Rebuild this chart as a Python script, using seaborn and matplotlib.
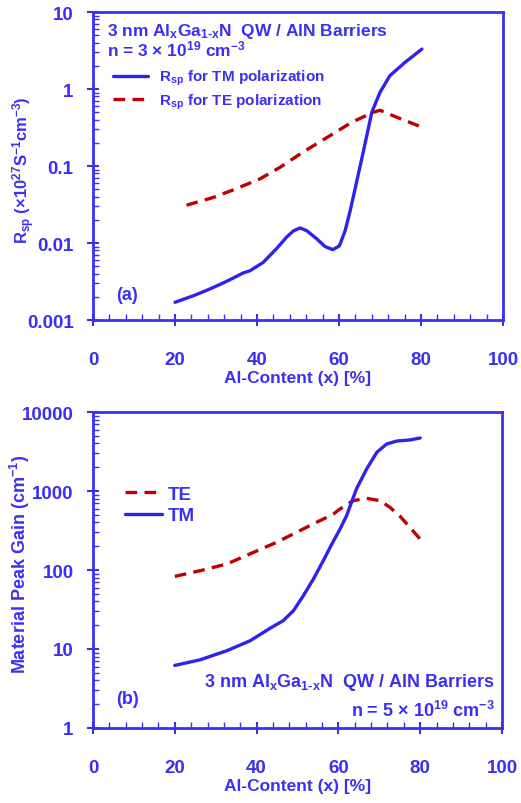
import numpy as np
import matplotlib
matplotlib.use('Agg')
import matplotlib.pyplot as plt
import seaborn as sns
from matplotlib.ticker import MultipleLocator, LogLocator, FuncFormatter

# ---- data ----
# (a) spontaneous emission rate, x = Al content [%]
rsp_tm_x = [20.0, 24.5, 28.5, 32.6, 36.7, 38.3, 41.5, 44.8, 47.2, 48.9, 50.5, 52.1,
            54.6, 56.6, 58.5, 60.1, 61.5, 62.7, 63.9, 65.9, 68.0, 70.0, 72.4, 76.1, 80.2]
rsp_tm_y = [0.0017, 0.00207, 0.00253, 0.00318, 0.0041, 0.00437, 0.0056, 0.0085, 0.0119,
            0.0144, 0.0157, 0.0145, 0.0113, 0.0090, 0.0082, 0.0092, 0.0145, 0.026, 0.050,
            0.151, 0.50, 0.906, 1.49, 2.22, 3.3]
rsp_te_x = [22.8, 29.3, 34.2, 40.7, 45.6, 50.9, 57.8, 63.1, 68.4, 70.0, 74.1, 80.2]
rsp_te_y = [0.031, 0.039, 0.049, 0.068, 0.096, 0.148, 0.248, 0.37, 0.50, 0.53, 0.43, 0.32]

# (b) material peak gain [cm^-1]
gain_tm_x = [20.0, 26.2, 32.7, 38.4, 43.3, 46.5, 49.0, 51.4, 53.9, 56.3, 58.4, 60.4,
             62.0, 64.4, 66.9, 69.4, 71.8, 74.3, 77.5, 80.0]
gain_tm_y = [6.2, 7.3, 9.5, 12.7, 18.3, 22.8, 30.5, 47, 77, 131, 213, 330,
             486, 1059, 1897, 3090, 3935, 4295, 4430, 4690]
gain_te_x = [20.0, 26.2, 32.7, 38.4, 44.9, 52.2, 58.8, 60.4, 63.6, 66.9, 70.2, 72.6,
             75.1, 80.0]
gain_te_y = [83, 98, 119, 160, 224, 347, 512, 592, 754, 807, 754, 622, 478, 246]

blue = '#3b30f2'
line_blue = '#2f22ee'
red = '#c00000'

sns.set_style('white')
plt.rcParams['font.family'] = ['Liberation Sans', 'DejaVu Sans']
plt.rcParams['font.weight'] = 'bold'
plt.rcParams['mathtext.fontset'] = 'custom'
plt.rcParams['mathtext.rm'] = 'Liberation Sans:bold'
plt.rcParams['mathtext.it'] = 'Liberation Sans:bold'
plt.rcParams['mathtext.bf'] = 'Liberation Sans:bold'
plt.rcParams['mathtext.default'] = 'rm'

fig = plt.figure(figsize=(5.21, 8.04), dpi=100)
ax1 = fig.add_axes([0.1785, 0.6007, 0.787, 0.3831])
ax2 = fig.add_axes([0.1785, 0.0933, 0.785, 0.393])


def style_axis(ax, ylim, yfmt):
    ax.set_yscale('log')
    ax.set_xlim(0, 100)
    ax.set_ylim(*ylim)
    for s in ax.spines.values():
        s.set_color(blue)
        s.set_linewidth(2)
    ax.xaxis.set_major_locator(MultipleLocator(20))
    ax.xaxis.set_minor_locator(MultipleLocator(4))
    ax.yaxis.set_major_locator(LogLocator(base=10))
    ax.yaxis.set_minor_locator(LogLocator(base=10, subs=np.arange(2, 10)))
    ax.yaxis.set_major_formatter(FuncFormatter(yfmt))
    ax.tick_params(which='major', direction='inout', length=8, width=1.5, color=blue,
                   labelcolor=blue, labelsize=13.5, bottom=True, left=True)
    ax.tick_params(which='minor', direction='in', length=4, width=1, color=blue,
                   bottom=True, left=True)
    ax.tick_params(axis='x', which='major', pad=18)
    ax.tick_params(axis='y', which='major', pad=10)
    for lab in ax.get_xticklabels() + ax.get_yticklabels():
        lab.set_fontweight('bold')
    ax.set_xlabel('Al-Content (x) [%]', color=blue, fontsize=12.5, fontweight='bold',
                  labelpad=2)
    ax.grid(False)


# ---- panel (a) ----
sns.lineplot(x=rsp_tm_x, y=rsp_tm_y, ax=ax1, color=line_blue, linewidth=2.4,
             label=r'R$_{sp}$ for TM polarization')
sns.lineplot(x=rsp_te_x, y=rsp_te_y, ax=ax1, color=red, linewidth=2.4,
             label=r'R$_{sp}$ for TE polarization')
ax1.lines[1].set_dashes([3.5, 2.2])
style_axis(ax1, (0.001, 10), lambda v, p: '%g' % v)
ax1.set_ylabel(r'R$_{sp}$ (×10$^{27}$S$^{-1}$cm$^{-3}$)', color=blue, fontsize=12,
               fontweight='bold')
ax1.yaxis.set_label_coords(-0.136, 0.49)
leg = ax1.legend(loc='center left', bbox_to_anchor=(0.049, 0.748), frameon=False,
                 fontsize=11, handlelength=2.3, handletextpad=0.7, labelspacing=0.3,
                 borderpad=0, borderaxespad=0)
for t in leg.get_texts():
    t.set_color(blue)
ax1.text(0.034, 0.927, r'3 nm Al$_x$Ga$_{1\text{-}x}$N  QW / AlN Barriers', transform=ax1.transAxes,
         color=blue, fontsize=12.5, fontweight='bold', va='baseline', ha='left')
ax1.text(0.034, 0.860, r'n = 3 × 10$^{19}$ cm$^{-3}$', transform=ax1.transAxes,
         color=blue, fontsize=12.5, fontweight='bold', va='baseline', ha='left')
ax1.text(0.056, 0.084, '(a)', transform=ax1.transAxes, color=blue, fontsize=13,
         fontweight='bold', va='center', ha='left')

# ---- panel (b) ----
sns.lineplot(x=gain_te_x, y=gain_te_y, ax=ax2, color=red, linewidth=2.4, label='TE')
sns.lineplot(x=gain_tm_x, y=gain_tm_y, ax=ax2, color=line_blue, linewidth=2.4, label='TM')
ax2.lines[0].set_dashes([3.5, 2.2])
style_axis(ax2, (1, 10000), lambda v, p: '%d' % v)
ax2.set_ylabel(r'Material Peak Gain (cm$^{-1}$)', color=blue, fontsize=13,
               fontweight='bold')
ax2.yaxis.set_label_coords(-0.150, 0.52)
leg = ax2.legend(loc='center left', bbox_to_anchor=(0.078, 0.706), frameon=False,
                 fontsize=13.5, handlelength=2.0, handletextpad=0.27, labelspacing=0.25,
                 borderpad=0, borderaxespad=0)
for t in leg.get_texts():
    t.set_color(blue)
ax2.text(0.983, 0.146, r'3 nm Al$_x$Ga$_{1\text{-}x}$N  QW / AlN Barriers', transform=ax2.transAxes,
         color=blue, fontsize=13, fontweight='bold', va='center', ha='right')
ax2.text(0.983, 0.058, r'n = 5 × 10$^{19}$ cm$^{-3}$', transform=ax2.transAxes,
         color=blue, fontsize=13, fontweight='bold', va='center', ha='right')
ax2.text(0.056, 0.092, '(b)', transform=ax2.transAxes, color=blue, fontsize=13,
         fontweight='bold', va='center', ha='left')

fig.savefig('out.png', dpi=100)
